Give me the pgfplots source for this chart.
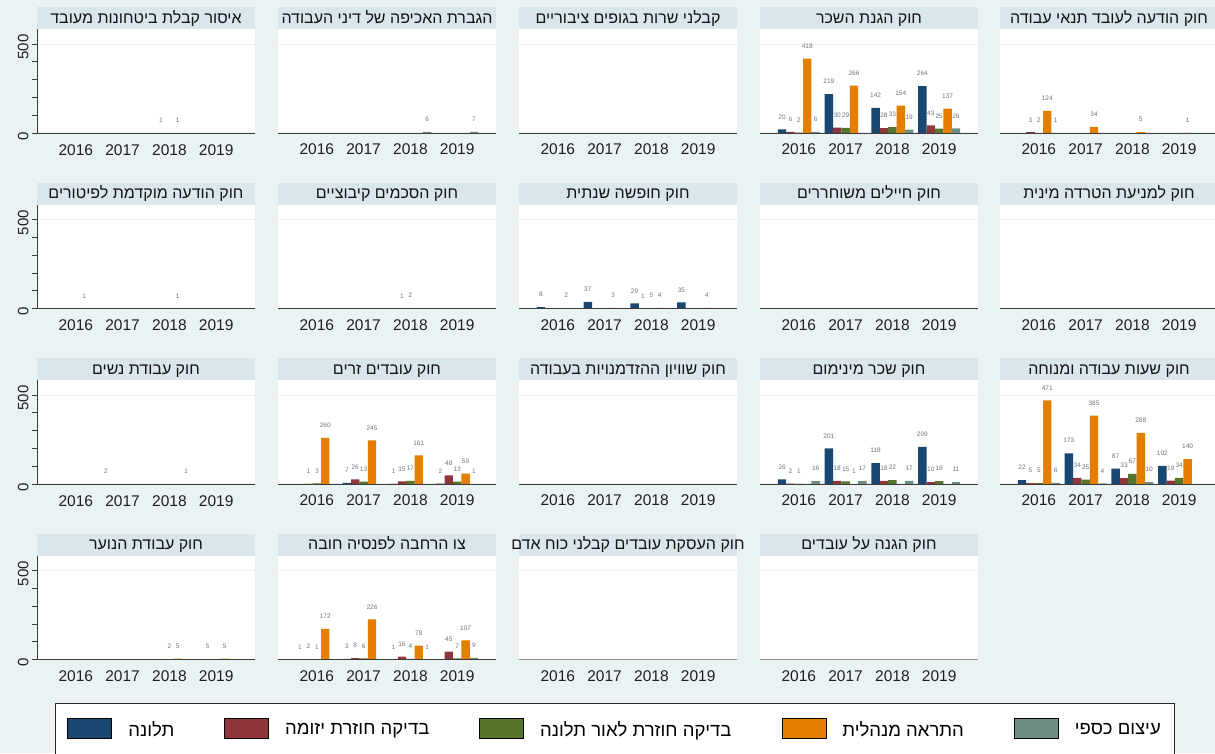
\documentclass[border=0pt]{standalone}
\usepackage{fontspec}
\usepackage{pgfplots}
\pgfplotsset{compat=1.18}
\setmainfont{Liberation Sans}
\newfontfamily\heb[Script=Hebrew]{Liberation Sans}
\TeXXeTstate=1
\definecolor{c1}{RGB}{26,71,111}
\definecolor{c2}{RGB}{144,53,59}
\definecolor{c3}{RGB}{85,117,47}
\definecolor{c4}{RGB}{227,126,0}
\definecolor{c5}{RGB}{110,142,132}
\definecolor{bg}{RGB}{234,242,243}
\definecolor{strip}{RGB}{217,230,235}
\definecolor{gridc}{RGB}{234,242,243}
\definecolor{axisgray}{RGB}{60,60,60}
\pgfplotsset{
 panel/.style={
  scale only axis, width=218pt, height=104pt, anchor=south west,
  xmin=0.17, xmax=4.83, ymin=0, ymax=585,
  axis line style={draw=none},
  /pgf/number format/assume math mode=true,
  xtick={1,2,3,4}, xticklabels={2016,2017,2018,2019},
  xtick style={draw=none},
  xticklabel style={font=\fontsize{15.5}{16}\selectfont, text=black!88, yshift=-3pt},
  ytick={0,500}, minor ytick={100,200,300,400},
  ytick pos=left,
  ymajorgrids, major grid style={draw=gridc, line width=1.2pt},
  tick align=outside,
  clip=false,
  axis background/.style={fill=white},
  nodes near coords,
  every node near coord/.append style={font=\fontsize{6.5}{7}\selectfont, text=black!55, yshift=10pt, inner sep=0pt},
 },
 firstcol/.style={
  yticklabel style={rotate=90, anchor=south, xshift=-3pt, font=\fontsize{15}{15}\selectfont, text=black!88},
  ytick style={draw=axisgray, line width=0.8pt}, minor tick style={draw=axisgray, line width=0.8pt},
  major tick length=5pt, minor tick length=5pt,
 },
 othercol/.style={ytick style={draw=none}, minor ytick={}, yticklabels={}},
 bb/.style={ybar, bar width=8.4pt, draw=none},
 b1/.style={bb, bar shift=-16.8pt, fill=c1, every node near coord/.append style={xshift=-16.8pt}},
 b2/.style={bb, bar shift=-8.4pt, fill=c2, every node near coord/.append style={xshift=-8.4pt}},
 b3/.style={bb, bar shift=0pt, fill=c3},
 b4/.style={bb, bar shift=8.4pt, fill=c4, every node near coord/.append style={xshift=8.4pt}},
 b5/.style={bb, bar shift=16.8pt, fill=c5, every node near coord/.append style={xshift=16.8pt}},
}
\newcommand{\xaxisline}{\draw[axisgray, line width=1pt] (rel axis cs:0,0) -- (rel axis cs:1,0);}
\newcommand{\yaxisline}{\draw[axisgray, line width=1pt] (rel axis cs:0,0) -- (rel axis cs:0,1);}
\newcommand{\strip}[3]{%
 \fill[strip] (#1pt,-#2pt) rectangle ({#1pt+218pt},{-#2pt+22pt});
 \node[font=\heb\fontsize{16}{18}\selectfont, text=black!92, inner sep=0pt, anchor=base] at ({#1pt+109pt},{-#2pt+5.6pt}) {#3};}
\begin{document}
\begin{tikzpicture}
\useasboundingbox (0,0) rectangle (1215pt,-753pt);
\clip (0,0) rectangle (1215pt,-753pt);
\fill[bg] (0,0) rectangle (1215pt,-753pt);

% ---------------- Row 1 ----------------
\begin{axis}[panel, firstcol, at={(37pt,-133pt)}]
\addplot[b2] coordinates {(3,1)};
\addplot[b4] coordinates {(3,1)};
\xaxisline \yaxisline
\end{axis}
\begin{axis}[panel, othercol, at={(278pt,-133pt)}]
\addplot[b5] coordinates {(3,6) (4,7)};
\xaxisline
\end{axis}
\begin{axis}[panel, othercol, at={(519pt,-133pt)}]
\xaxisline
\end{axis}
\begin{axis}[panel, othercol, at={(760pt,-133pt)}]
\addplot[b1] coordinates {(1,20) (2,219) (3,142) (4,264)};
\addplot[b2] coordinates {(1,6) (2,30) (3,28) (4,43)};
\addplot[b3] coordinates {(1,2) (2,29) (3,33) (4,25)};
\addplot[b4] coordinates {(1,418) (2,266) (3,154) (4,137)};
\addplot[b5] coordinates {(1,6) (3,19) (4,26)};
\xaxisline
\end{axis}
\begin{axis}[panel, othercol, at={(1000pt,-133pt)}]
\addplot[b2] coordinates {(1,3)};
\addplot[b3] coordinates {(1,2)};
\addplot[b4] coordinates {(1,124) (2,34) (3,5) (4,1)};
\addplot[b5] coordinates {(1,1)};
\xaxisline
\end{axis}

% ---------------- Row 2 ----------------
\begin{axis}[panel, firstcol, at={(37pt,-308.5pt)}]
\addplot[b4] coordinates {(1,1) (3,1)};
\xaxisline \yaxisline
\end{axis}
\begin{axis}[panel, othercol, at={(278pt,-308.5pt)}]
\addplot[b2] coordinates {(3,1)};
\addplot[b3] coordinates {(3,2)};
\xaxisline
\end{axis}
\begin{axis}[panel, othercol, at={(519pt,-308.5pt)}]
\addplot[b1] coordinates {(1,8) (2,37) (3,29) (4,35)};
\addplot[b2] coordinates {(3,1)};
\addplot[b3] coordinates {(3,5)};
\addplot[b4] coordinates {(1,2) (2,3) (3,4) (4,4)};
\xaxisline
\end{axis}
\begin{axis}[panel, othercol, at={(760pt,-308.5pt)}]
\xaxisline
\end{axis}
\begin{axis}[panel, othercol, at={(1000pt,-308.5pt)}]
\xaxisline
\end{axis}

% ---------------- Row 3 ----------------
\begin{axis}[panel, firstcol, at={(37pt,-484pt)}]
\addplot[b1] coordinates {(2,2)};
\addplot[b5] coordinates {(3,1)};
\xaxisline \yaxisline
\end{axis}
\begin{axis}[panel, othercol, at={(278pt,-484pt)}]
\addplot[b1] coordinates {(2,7) (3,1) (4,2)};
\addplot[b2] coordinates {(1,1) (2,26) (3,15) (4,48)};
\addplot[b3] coordinates {(1,3) (2,13) (3,17) (4,13)};
\addplot[b4] coordinates {(1,260) (2,245) (3,161) (4,59)};
\addplot[b5] coordinates {(4,1)};
\xaxisline
\end{axis}
\begin{axis}[panel, othercol, at={(519pt,-484pt)}]
\xaxisline
\end{axis}
\begin{axis}[panel, othercol, at={(760pt,-484pt)}]
\addplot[b1] coordinates {(1,26) (2,201) (3,118) (4,209)};
\addplot[b2] coordinates {(1,2) (2,18) (3,18) (4,10)};
\addplot[b3] coordinates {(1,1) (2,15) (3,22) (4,16)};
\addplot[b4] coordinates {(2,1)};
\addplot[b5] coordinates {(1,16) (2,17) (3,17) (4,11)};
\xaxisline
\end{axis}
\begin{axis}[panel, othercol, at={(1000pt,-484pt)}]
\addplot[b1] coordinates {(1,22) (2,173) (3,87) (4,102)};
\addplot[b2] coordinates {(1,5) (2,34) (3,33) (4,19)};
\addplot[b3] coordinates {(1,5) (2,25) (3,57) (4,34)};
\addplot[b4] coordinates {(1,471) (2,385) (3,288) (4,140)};
\addplot[b5] coordinates {(1,6) (2,4) (3,10)};
\xaxisline
\end{axis}

% ---------------- Row 4 ----------------
\begin{axis}[panel, firstcol, at={(37pt,-659.5pt)}]
\addplot[b2] coordinates {(4,5)};
\addplot[b3] coordinates {(3,2)};
\addplot[b4] coordinates {(3,5) (4,5)};
\xaxisline \yaxisline
\end{axis}
\begin{axis}[panel, othercol, at={(278pt,-659.5pt)}]
\addplot[b1] coordinates {(1,1) (2,3) (3,1)};
\addplot[b2] coordinates {(1,2) (2,8) (3,16) (4,45)};
\addplot[b3] coordinates {(1,1) (2,6) (3,4) (4,7)};
\addplot[b4] coordinates {(1,172) (2,226) (3,78) (4,107)};
\addplot[b5] coordinates {(3,1) (4,9)};
\xaxisline
\end{axis}
\begin{axis}[panel, othercol, at={(519pt,-659.5pt)}]
\draw[black!45, line width=1pt] (rel axis cs:0,0) -- (rel axis cs:1,0);
\end{axis}
\begin{axis}[panel, othercol, at={(760pt,-659.5pt)}]
\draw[black!45, line width=1pt] (rel axis cs:0,0) -- (rel axis cs:1,0);
\end{axis}

% ---------------- Strips ----------------
\strip{37}{29}{\beginR איסור קבלת ביטחונות מעובד\endR}
\strip{278}{29}{\beginR הגברת האכיפה של דיני העבודה\endR}
\strip{519}{29}{\beginR קבלני שרות בגופים ציבוריים\endR}
\strip{760}{29}{\beginR חוק הגנת השכר\endR}
\strip{1000}{29}{\beginR חוק הודעה לעובד תנאי עבודה\endR}
\strip{37}{204.5}{\beginR חוק הודעה מוקדמת לפיטורים\endR}
\strip{278}{204.5}{\beginR חוק הסכמים קיבוציים\endR}
\strip{519}{204.5}{\beginR חוק חופשה שנתית\endR}
\strip{760}{204.5}{\beginR חוק חיילים משוחררים\endR}
\strip{1000}{204.5}{\beginR חוק למניעת הטרדה מינית\endR}
\strip{37}{380}{\beginR חוק עבודת נשים\endR}
\strip{278}{380}{\beginR חוק עובדים זרים\endR}
\strip{519}{380}{\beginR חוק שוויון ההזדמנויות בעבודה\endR}
\strip{760}{380}{\beginR חוק שכר מינימום\endR}
\strip{1000}{380}{\beginR חוק שעות עבודה ומנוחה\endR}
\strip{37}{555.5}{\beginR חוק עבודת הנוער\endR}
\strip{278}{555.5}{\beginR צו הרחבה לפנסיה חובה\endR}
\strip{519}{555.5}{\beginR חוק העסקת עובדים קבלני כוח אדם\endR}
\strip{760}{555.5}{\beginR חוק הגנה על עובדים\endR}

% ---------------- Legend ----------------
\begin{axis}[at={(55pt,-703pt)}, anchor=north west, scale only axis, width=10pt, height=10pt,
 hide axis, xmin=0, xmax=1, ymin=0, ymax=1,
 legend columns=5,
 legend style={at={(0,1)}, anchor=north west, draw=black!85, line width=0.9pt, fill=white,
   inner xsep=12pt, inner ysep=15pt, font=\heb\fontsize{18.5}{20}\selectfont,
   /tikz/every odd column/.append style={column sep=14pt},
   /tikz/every even column/.append style={column sep=48pt}},
 legend image code/.code={\fill[#1] (0pt,-9pt) rectangle (44pt,11pt);},
]
\addlegendimage{fill=c1}
\addlegendentry{\beginR תלונה\endR}
\addlegendimage{fill=c2}
\addlegendentry{\beginR בדיקה חוזרת יזומה\endR}
\addlegendimage{fill=c3}
\addlegendentry{\beginR בדיקה חוזרת לאור תלונה\endR}
\addlegendimage{fill=c4}
\addlegendentry{\beginR התראה מנהלית\endR}
\addlegendimage{fill=c5}
\addlegendentry{\beginR עיצום כספי\endR}
\end{axis}
\end{tikzpicture}
\end{document}
